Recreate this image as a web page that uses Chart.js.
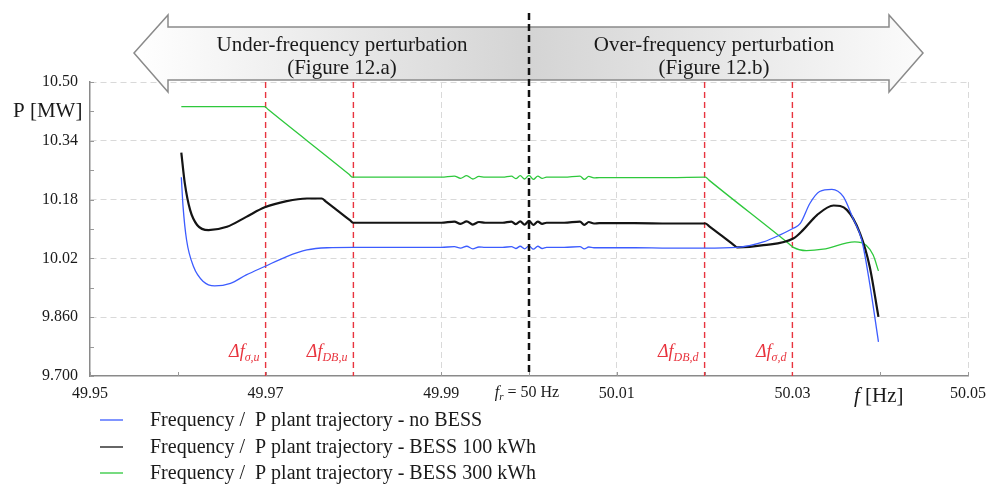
<!DOCTYPE html>
<html>
<head>
<meta charset="utf-8">
<script src="https://cdn.jsdelivr.net/npm/chart.js@4.4.1/dist/chart.umd.min.js"></script>
<style>
  html, body { margin: 0; padding: 0; background: #fff; }
  canvas { display: block; }
</style>
</head>
<body>
<canvas id="graphCanvas" width="987" height="485"></canvas>
<script>
// frequency [Hz] / power [MW]
const blueF = [49.9604, 49.9606, 49.9610, 49.9618, 49.9629, 49.9642, 49.9660, 49.9678, 49.9699, 49.9724, 49.9747, 49.9770, 49.9800, 49.9850, 49.9900, 49.9915, 49.9922, 49.9929, 49.9936, 49.9943, 49.9950, 49.9970, 49.9980, 49.9985, 49.9990, 49.9995, 50.0000, 50.0005, 50.0010, 50.0015, 50.0020, 50.0040, 50.0058, 50.0063, 50.0068, 50.0074, 50.0080, 50.0120, 50.0160, 50.0200, 50.0237, 50.0267, 50.0286, 50.0301, 50.0309, 50.0320, 50.0331, 50.0345, 50.0358, 50.0369, 50.0379, 50.0388, 50.0398];
const blueP = [10.241, 10.161, 10.070, 9.997, 9.957, 9.945, 9.952, 9.975, 9.998, 10.025, 10.043, 10.049, 10.050, 10.050, 10.050, 10.052, 10.048, 10.053, 10.046, 10.051, 10.050, 10.050, 10.052, 10.047, 10.053, 10.046, 10.054, 10.045, 10.053, 10.047, 10.050, 10.050, 10.052, 10.046, 10.051, 10.049, 10.049, 10.049, 10.048, 10.048, 10.050, 10.065, 10.084, 10.102, 10.115, 10.170, 10.202, 10.208, 10.188, 10.129, 10.070, 9.952, 9.793];

const blackF = [49.9604, 49.9608, 49.9614, 49.9622, 49.9635, 49.9656, 49.9678, 49.9699, 49.9724, 49.9747, 49.9764, 49.9768, 49.9796, 49.9800, 49.9850, 49.9900, 49.9915, 49.9922, 49.9929, 49.9936, 49.9943, 49.9950, 49.9970, 49.9980, 49.9985, 49.9990, 49.9995, 50.0000, 50.0005, 50.0010, 50.0015, 50.0020, 50.0040, 50.0058, 50.0063, 50.0068, 50.0074, 50.0080, 50.0120, 50.0160, 50.0201, 50.0205, 50.0233, 50.0237, 50.0267, 50.0301, 50.0312, 50.0328, 50.0347, 50.0362, 50.0377, 50.0388, 50.0398];
const blackP = [10.308, 10.224, 10.152, 10.111, 10.097, 10.106, 10.133, 10.159, 10.176, 10.183, 10.183, 10.176, 10.124, 10.117, 10.117, 10.117, 10.120, 10.114, 10.121, 10.112, 10.119, 10.117, 10.117, 10.120, 10.113, 10.121, 10.112, 10.122, 10.111, 10.120, 10.114, 10.117, 10.117, 10.120, 10.111, 10.119, 10.115, 10.116, 10.116, 10.115, 10.115, 10.108, 10.057, 10.050, 10.056, 10.074, 10.097, 10.138, 10.164, 10.152, 10.088, 9.998, 9.861];

const greenF = [49.9604, 49.9699, 49.9703, 49.9795, 49.9799, 49.9850, 49.9900, 49.9915, 49.9922, 49.9929, 49.9936, 49.9943, 49.9950, 49.9970, 49.9980, 49.9985, 49.9990, 49.9995, 50.0000, 50.0005, 50.0010, 50.0015, 50.0020, 50.0040, 50.0058, 50.0063, 50.0068, 50.0074, 50.0080, 50.0120, 50.0160, 50.0201, 50.0205, 50.0297, 50.0301, 50.0316, 50.0335, 50.0371, 50.0384, 50.0392, 50.0398];
const greenP = [10.433, 10.433, 10.425, 10.249, 10.241, 10.241, 10.241, 10.244, 10.238, 10.245, 10.236, 10.243, 10.241, 10.241, 10.244, 10.237, 10.245, 10.236, 10.246, 10.235, 10.244, 10.238, 10.241, 10.241, 10.244, 10.235, 10.243, 10.239, 10.240, 10.240, 10.240, 10.241, 10.233, 10.058, 10.050, 10.041, 10.045, 10.065, 10.056, 10.029, 9.986];

const seriesLabels = [
    'Frequency /  P plant trajectory - no BESS',
    'Frequency /  P plant trajectory - BESS 100 kWh',
    'Frequency /  P plant trajectory - BESS 300 kWh'
];

const xTicks = [49.95, 49.96, 49.97, 49.98, 49.99, 50.00, 50.01, 50.02, 50.03, 50.04, 50.05];
const xTickLabels = ['49.95', '', '49.97', '', '49.99', '', '50.01', '', '50.03', '', '50.05'];
const yTicks = [9.70, 9.78, 9.86, 9.94, 10.02, 10.10, 10.18, 10.26, 10.34, 10.42, 10.50];
const yTickLabels = ['9.700', '', '9.860', '', '10.02', '', '10.18', '', '10.34', '', '10.50'];

// dead-band / sigma markers and their subscripts
const redLines = [49.97, 49.98, 50.02, 50.03];
const redSubs = ['\u03c3,u', 'DB,u', 'DB,d', '\u03c3,d'];
const fRated = 50.00;

const SERIF = '"Liberation Serif", "DejaVu Serif", serif';

function pts(f, p) {
    return f.map((v, i) => ({ x: v, y: p[i] }));
}

const overlay = {
    id: 'overlay',
    beforeDatasetsDraw(chart) {
        const { ctx, chartArea: a, scales: { x, y } } = chart;
        ctx.save();
        // small inward ticks
        ctx.strokeStyle = '#999';
        ctx.lineWidth = 1;
        ctx.beginPath();
        xTicks.forEach(v => {
            const px = Math.round(x.getPixelForValue(v)) + 0.5;
            ctx.moveTo(px, a.bottom);
            ctx.lineTo(px, a.bottom - 4);
        });
        yTicks.forEach(v => {
            const py = Math.round(y.getPixelForValue(v)) + 0.5;
            ctx.moveTo(a.left, py);
            ctx.lineTo(a.left + 4, py);
        });
        ctx.stroke();

        // red dashed markers
        ctx.strokeStyle = '#e8343e';
        ctx.lineWidth = 1.4;
        ctx.setLineDash([6, 4]);
        redLines.forEach(v => {
            const px = x.getPixelForValue(v);
            ctx.beginPath();
            ctx.moveTo(px, a.top);
            ctx.lineTo(px, a.bottom);
            ctx.stroke();
        });
        ctx.restore();
    },
    afterDatasetsDraw(chart) {
        const { ctx, chartArea: a, scales: { x, y } } = chart;
        const xc = x.getPixelForValue(fRated);
        ctx.save();

        // double arrow banner
        const l = 134, r = 923;
        const g = ctx.createLinearGradient(l, 0, r, 0);
        g.addColorStop(0, '#ffffff');
        g.addColorStop(0.5, '#d4d4d4');
        g.addColorStop(1, '#fbfbfb');
        ctx.beginPath();
        ctx.moveTo(l, 53);
        ctx.lineTo(168, 15);
        ctx.lineTo(168, 27);
        ctx.lineTo(889, 27);
        ctx.lineTo(889, 15);
        ctx.lineTo(r, 53);
        ctx.lineTo(889, 92);
        ctx.lineTo(889, 80);
        ctx.lineTo(168, 80);
        ctx.lineTo(168, 92);
        ctx.closePath();
        ctx.fillStyle = g;
        ctx.fill();
        ctx.strokeStyle = '#8a8a8a';
        ctx.lineWidth = 1.5;
        ctx.stroke();

        ctx.fillStyle = '#1a1a1a';
        ctx.font = '21px ' + SERIF;
        ctx.textAlign = 'center';
        ctx.textBaseline = 'alphabetic';
        ctx.fillText('Under-frequency perturbation', 342, 51);
        ctx.fillText('(Figure 12.a)', 342, 74);
        ctx.fillText('Over-frequency perturbation', 714, 51);
        ctx.fillText('(Figure 12.b)', 714, 74);

        // rated frequency line
        ctx.strokeStyle = '#111';
        ctx.lineWidth = 2.5;
        ctx.setLineDash([7, 4]);
        ctx.beginPath();
        ctx.moveTo(xc, 13);
        ctx.lineTo(xc, a.bottom);
        ctx.stroke();
        ctx.setLineDash([]);

        // red marker labels
        ctx.fillStyle = '#e8343e';
        ctx.textAlign = 'left';
        redLines.forEach((v, i) => {
            const px = x.getPixelForValue(v);
            ctx.font = 'italic 18px ' + SERIF;
            const w1 = ctx.measureText('\u0394f').width;
            ctx.font = 'italic 12px ' + SERIF;
            const w2 = ctx.measureText(redSubs[i]).width;
            const sx = px - 6 - w1 - w2;
            ctx.font = 'italic 18px ' + SERIF;
            ctx.fillText('\u0394f', sx, 357);
            ctx.font = 'italic 12px ' + SERIF;
            ctx.fillText(redSubs[i], sx + w1, 361);
        });

        // f_r = 50 Hz label
        ctx.fillStyle = '#1a1a1a';
        ctx.font = 'italic 16px ' + SERIF;
        const a1 = ctx.measureText('f').width;
        ctx.font = 'italic 11px ' + SERIF;
        const a2 = ctx.measureText('r').width;
        ctx.font = '16px ' + SERIF;
        const a3 = ctx.measureText(' = 50 Hz').width;
        let sx = xc - 2 - (a1 + a2 + a3) / 2;
        ctx.font = 'italic 16px ' + SERIF;
        ctx.fillText('f', sx, 397);
        ctx.font = 'italic 11px ' + SERIF;
        ctx.fillText('r', sx + a1, 400);
        ctx.font = '16px ' + SERIF;
        ctx.fillText(' = 50 Hz', sx + a1 + a2, 397);

        // axis titles
        ctx.font = 'italic 21px ' + SERIF;
        ctx.fillText('f', 854, 402);
        const fw = ctx.measureText('f').width;
        ctx.font = '21px ' + SERIF;
        ctx.fillText(' [Hz]', 854 + fw, 402);
        ctx.fillText('P [MW]', 13, 117);

        // legend
        const ly = [420, 447, 473];
        chart.data.datasets.forEach((ds, i) => {
            ctx.strokeStyle = ds.borderColor;
            ctx.lineWidth = 1.3;
            ctx.beginPath();
            ctx.moveTo(100, ly[i]);
            ctx.lineTo(123, ly[i]);
            ctx.stroke();
            ctx.fillStyle = '#1a1a1a';
            ctx.font = '20px ' + SERIF;
            ctx.textBaseline = 'middle';
            ctx.fillText(ds.label, 150, ly[i] + 1);
        });
        ctx.restore();
    }
};

const gridColor = labels => c => (c.index > 0 && labels[c.index] !== '') ? '#d9d9d9' : 'rgba(0,0,0,0)';

const ctx = document.getElementById('graphCanvas').getContext('2d');
new Chart(ctx, {
    type: 'line',
    data: {
        datasets: [{
            label: seriesLabels[0],
            data: pts(blueF, blueP),
            borderColor: '#3c5cff',
            borderWidth: 1.3
        }, {
            label: seriesLabels[1],
            data: pts(blackF, blackP),
            borderColor: '#141414',
            borderWidth: 2.2
        }, {
            label: seriesLabels[2],
            data: pts(greenF, greenP),
            borderColor: '#2ec83c',
            borderWidth: 1.3
        }]
    },
    options: {
        responsive: false,
        animation: false,
        cubicInterpolationMode: 'monotone',
        elements: { point: { radius: 0 }, line: { fill: false } },
        layout: { padding: { top: 82, right: 19, left: 0, bottom: 0 } },
        plugins: { legend: { display: false }, tooltip: { enabled: false } },
        scales: {
            x: {
                type: 'linear',
                position: 'bottom',
                min: 49.95,
                max: 50.05,
                afterBuildTicks: s => { s.ticks = xTicks.map(v => ({ value: v })); },
                afterFit: s => { s.height = 109; s.paddingLeft = 0; s.paddingRight = 0; },
                ticks: {
                    autoSkip: false,
                    maxRotation: 0,
                    padding: 8,
                    color: '#1a1a1a',
                    font: { family: SERIF, size: 16 },
                    callback: (v, i) => xTickLabels[i]
                },
                grid: { drawTicks: false, color: gridColor(xTickLabels), lineWidth: 1 },
                border: { color: '#8a8a8a', width: 1.5, dash: [6, 4] }
            },
            y: {
                min: 9.70,
                max: 10.50,
                afterBuildTicks: s => { s.ticks = yTicks.map(v => ({ value: v })); },
                afterFit: s => { s.width = 90; s.paddingTop = 0; s.paddingBottom = 0; },
                ticks: {
                    autoSkip: false,
                    padding: 12,
                    color: '#1a1a1a',
                    font: { family: SERIF, size: 16 },
                    callback: (v, i) => yTickLabels[i]
                },
                grid: { drawTicks: false, color: gridColor(yTickLabels), lineWidth: 1 },
                border: { color: '#8a8a8a', width: 1.5, dash: [6, 4] }
            }
        }
    },
    plugins: [overlay]
});
</script>
</body>
</html>
